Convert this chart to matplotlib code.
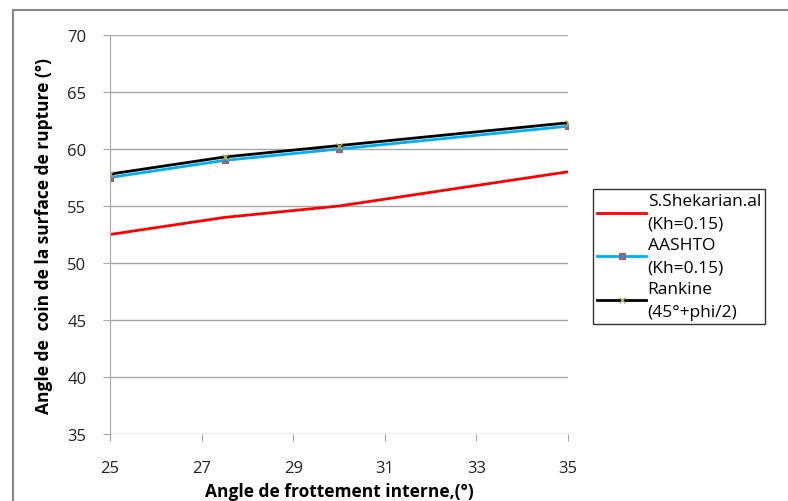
import matplotlib.pyplot as plt
import matplotlib.patches as patches

plt.rcParams['font.family'] = ['Open Sans', 'DejaVu Sans']

# data
phi = [25, 27.5, 30, 35]
shekarian = [52.5, 54.0, 55.0, 58.0]
aashto = [57.5, 59.0, 60.0, 62.0]
rankine = [57.8, 59.3, 60.3, 62.3]

labels = ['S.Shekarian.al\n(Kh=0.15)', 'AASHTO\n(Kh=0.15)', 'Rankine\n(45°+phi/2)']
xticks = [25, 27, 29, 31, 33, 35]
yticks = [35, 40, 45, 50, 55, 60, 65, 70]

fig = plt.figure(figsize=(7.88, 5.02), dpi=100)
ax = fig.add_axes([110/788, 1 - 435/502, (568 - 110)/788, (435 - 36)/502])

# outer chart frame
fig.patches.append(patches.Rectangle((13/788, -0.01), 1, 1 - 11/502 + 0.01,
                                     transform=fig.transFigure, fill=False,
                                     edgecolor='#888888', linewidth=1.5))

ax.plot(phi, shekarian, color='#ff0000', lw=2, label=labels[0])
ax.plot(phi, aashto, color='#00b0f0', lw=2, marker='s', ms=5,
        mfc='#4f81bd', mec='#c0504d', mew=0.8, label=labels[1])
ax.plot(phi, rankine, color='black', lw=2, marker='x', ms=4,
        mec='#9bbb59', mew=1, label=labels[2])

ax.set_xlim(25, 35)
ax.set_ylim(35, 70)
ax.set_xticks(xticks)
ax.set_yticks(yticks)
ax.grid(axis='y', color='#a6a6a6', lw=1)
ax.set_axisbelow(True)
for s in ['top', 'right', 'bottom']:
    ax.spines[s].set_visible(False)
ax.spines['left'].set_color('#a6a6a6')
ax.tick_params(axis='both', direction='out', length=5, color='#a6a6a6',
               labelsize=12, labelcolor='#222222')
ax.tick_params(axis='x', pad=14)
ax.tick_params(axis='y', pad=12)

ax.set_xlabel('Angle de frottement interne,(°)', fontsize=12.5, fontweight='bold', labelpad=4)
ax.set_ylabel('Angle de  coin de la surface de rupture (°)', fontsize=12.5, fontweight='bold', labelpad=10)

leg = fig.legend(loc='upper left', bbox_to_anchor=(593/788, 1 - 190/502),
                 frameon=True, fancybox=False, edgecolor='black', fontsize=12.5,
                 handlelength=2.8, handletextpad=0.1, borderpad=0.25,
                 labelspacing=0.3, borderaxespad=0)
leg.get_frame().set_linewidth(1)
for t in leg.get_texts():
    t.set_linespacing(1.55)

fig.savefig('out.png', dpi=100)
